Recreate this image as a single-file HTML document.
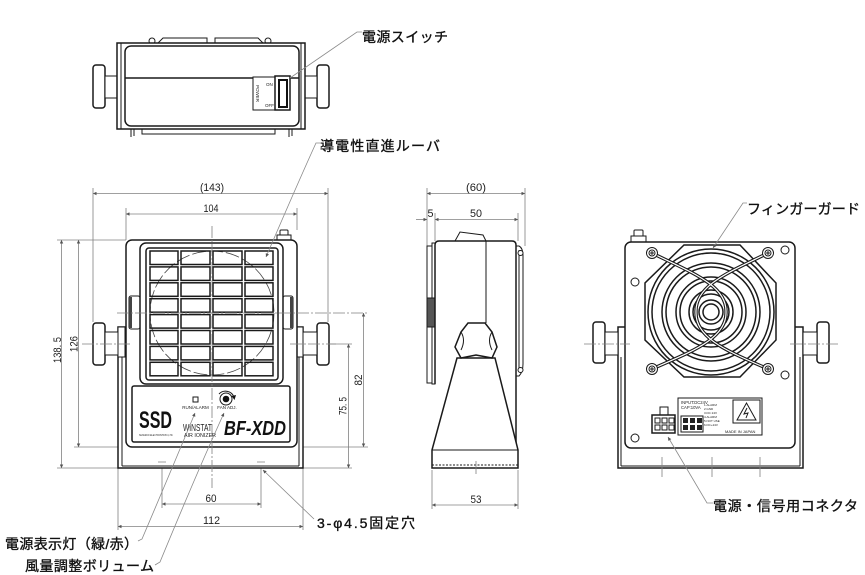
<!DOCTYPE html>
<html><head><meta charset="utf-8">
<style>
html,body{margin:0;padding:0;background:#fff;}
svg{display:block;}
.o{fill:none;stroke:#1a1a1a;stroke-width:1.5;}
.w{fill:#fff;stroke:#1a1a1a;stroke-width:1.5;}
.t{fill:none;stroke:#1a1a1a;stroke-width:1;}
.tw{fill:#fff;stroke:#1a1a1a;stroke-width:1;}
.d{fill:none;stroke:#808080;stroke-width:0.8;}
.c{fill:none;stroke:#808080;stroke-width:0.8;stroke-dasharray:12 2 2 2;}
.l{fill:none;stroke:#8a8a8a;stroke-width:0.8;}
.dt{font-family:"Liberation Sans",sans-serif;font-size:11px;fill:#222;}
.jp{font-family:"Liberation Sans","Noto Sans CJK JP",sans-serif;font-size:14px;fill:#111;stroke:#111;stroke-width:0.35;}
.sm{font-family:"Liberation Sans",sans-serif;fill:#222;}
</style></head><body>
<svg width="865" height="575" viewBox="0 0 865 575" xmlns="http://www.w3.org/2000/svg">
<defs>
<marker id="a" viewBox="0 0 10 10" refX="10" refY="5" markerUnits="userSpaceOnUse" markerWidth="6" markerHeight="3.5" orient="auto-start-reverse"><path d="M0,0L10,5L0,10z" fill="#555"/></marker>
</defs>

<!-- ================= TOP VIEW ================= -->
<rect x="93" y="65" width="12" height="43" rx="3" class="w"/>
<rect x="105" y="76" width="12" height="22" class="tw"/>
<rect x="317" y="65" width="12" height="43" rx="3" class="w"/>
<rect x="305" y="76" width="12" height="22" class="tw"/>
<path d="M158,43 L163,38 L207,38 L207,43 M215,43 L215,38 L258,38 L263,43" class="t"/>
<circle cx="152" cy="41" r="3" class="tw"/>
<circle cx="268" cy="41" r="3" class="tw"/>
<rect x="117" y="43" width="188" height="86" class="w"/>
<line x1="121" y1="43" x2="121" y2="129" class="t"/>
<line x1="301" y1="43" x2="301" y2="129" class="t"/>
<rect x="125" y="46" width="174" height="80" rx="6" class="w"/>
<line x1="125" y1="78" x2="299" y2="78" class="o"/>
<rect x="142" y="129" width="133" height="5" class="t"/>
<path d="M131,129 L131,137 M134,129 L134,136 M289,129 L289,137 M292,129 L292,136" class="t"/>
<rect x="253" y="77" width="22" height="33" class="tw"/>
<text x="266" y="86" class="sm" font-size="4.5">ON</text>
<text x="265" y="107" class="sm" font-size="4.5">OFF</text>
<text transform="translate(256,85) rotate(90)" class="sm" font-size="4.5">POWER</text>
<rect x="275" y="76" width="15" height="34" class="w"/>
<rect x="279" y="80" width="8" height="27" fill="none" stroke="#111" stroke-width="2"/>
<path d="M362,32 L357,32 L290,78" class="l"/>
<text x="362" y="42" class="jp" textLength="86">電源スイッチ</text>

<!-- ================= FRONT VIEW ================= -->
<line x1="93" y1="188" x2="93" y2="322" class="d"/>
<line x1="328" y1="188" x2="328" y2="322" class="d"/>
<line x1="93" y1="193.5" x2="328" y2="193.5" class="d" marker-start="url(#a)" marker-end="url(#a)"/>
<text x="212" y="191" class="dt" text-anchor="middle" textLength="24" lengthAdjust="spacingAndGlyphs">(143)</text>
<line x1="126" y1="208" x2="126" y2="240" class="d"/>
<line x1="297" y1="208" x2="297" y2="230" class="d"/>
<line x1="126" y1="214" x2="297" y2="214" class="d" marker-start="url(#a)" marker-end="url(#a)"/>
<text x="211" y="212" class="dt" text-anchor="middle" textLength="15" lengthAdjust="spacingAndGlyphs">104</text>
<line x1="57" y1="240" x2="126" y2="240" class="d"/>
<line x1="57" y1="468" x2="118" y2="468" class="d"/>
<line x1="61.5" y1="240" x2="61.5" y2="468" class="d" marker-start="url(#a)" marker-end="url(#a)"/>
<text transform="translate(61,350) rotate(-90)" class="dt" text-anchor="middle" textLength="26" lengthAdjust="spacingAndGlyphs">138. 5</text>
<line x1="74" y1="447" x2="126" y2="447" class="d"/>
<line x1="78.5" y1="240" x2="78.5" y2="447" class="d" marker-start="url(#a)" marker-end="url(#a)"/>
<text transform="translate(77.5,344) rotate(-90)" class="dt" text-anchor="middle" textLength="16" lengthAdjust="spacingAndGlyphs">126</text>
<line x1="297" y1="447" x2="368" y2="447" class="d"/>
<line x1="363.5" y1="313" x2="363.5" y2="447" class="d" marker-start="url(#a)" marker-end="url(#a)"/>
<text transform="translate(362,380) rotate(-90)" class="dt" text-anchor="middle" textLength="11" lengthAdjust="spacingAndGlyphs">82</text>
<line x1="303" y1="468" x2="352" y2="468" class="d"/>
<line x1="330" y1="344" x2="352" y2="344" class="d"/>
<line x1="348.5" y1="344" x2="348.5" y2="468" class="d" marker-start="url(#a)" marker-end="url(#a)"/>
<text transform="translate(346.5,406) rotate(-90)" class="dt" text-anchor="middle" textLength="18" lengthAdjust="spacingAndGlyphs">75. 5</text>
<line x1="162" y1="458" x2="162" y2="508" class="d"/>
<line x1="261" y1="458" x2="261" y2="508" class="d"/>
<line x1="162" y1="504" x2="261" y2="504" class="d" marker-start="url(#a)" marker-end="url(#a)"/>
<text x="211" y="502" class="dt" text-anchor="middle" textLength="11" lengthAdjust="spacingAndGlyphs">60</text>
<line x1="118" y1="468" x2="118" y2="530" class="d"/>
<line x1="303" y1="468" x2="303" y2="530" class="d"/>
<line x1="118" y1="526.5" x2="303" y2="526.5" class="d" marker-start="url(#a)" marker-end="url(#a)"/>
<text x="211.5" y="524" class="dt" text-anchor="middle" textLength="17" lengthAdjust="spacingAndGlyphs">112</text>

<rect x="118" y="327" width="185" height="141" class="w"/>
<line x1="122" y1="357" x2="122" y2="466" class="t"/>
<line x1="299" y1="357" x2="299" y2="466" class="t"/>
<line x1="122" y1="466" x2="299" y2="466" class="t"/>
<rect x="93" y="323" width="12" height="42" rx="3" class="w"/>
<rect x="105" y="332" width="13" height="23" class="tw"/>
<rect x="118" y="327" width="7" height="30" class="tw"/>
<rect x="317" y="323" width="12" height="42" rx="3" class="w"/>
<rect x="303" y="332" width="14" height="23" class="tw"/>
<rect x="296" y="327" width="7" height="30" class="tw"/>
<rect x="280" y="230" width="8" height="8" rx="1" class="tw"/>
<rect x="277" y="235" width="14" height="5" class="tw"/>
<rect x="126" y="240" width="171" height="207" rx="6" class="w" stroke-width="1.7"/>
<rect x="129" y="296" width="11" height="33" rx="2" class="tw"/>
<rect x="129" y="297" width="3" height="31" fill="#444"/>
<rect x="283" y="296" width="10" height="33" rx="2" class="tw"/>
<rect x="290" y="297" width="3" height="31" fill="#444"/>
<rect x="140" y="243" width="143" height="141" rx="6" class="w"/>
<rect x="146" y="248" width="132" height="132" rx="3" class="w"/>
<circle cx="212" cy="313" r="62" fill="none" stroke="#444" stroke-width="0.8" stroke-dasharray="14 3"/>
<g class="o" stroke-width="1.3">
<rect x="150" y="251" width="28" height="13.5"/><rect x="181" y="251" width="29" height="13.5"/><rect x="213" y="251" width="29" height="13.5"/><rect x="245" y="251" width="28" height="13.5"/>
<rect x="150" y="266.9" width="28" height="13.5"/><rect x="181" y="266.9" width="29" height="13.5"/><rect x="213" y="266.9" width="29" height="13.5"/><rect x="245" y="266.9" width="28" height="13.5"/>
<rect x="150" y="282.8" width="28" height="13.5"/><rect x="181" y="282.8" width="29" height="13.5"/><rect x="213" y="282.8" width="29" height="13.5"/><rect x="245" y="282.8" width="28" height="13.5"/>
<rect x="150" y="298.7" width="28" height="13.5"/><rect x="181" y="298.7" width="29" height="13.5"/><rect x="213" y="298.7" width="29" height="13.5"/><rect x="245" y="298.7" width="28" height="13.5"/>
<rect x="150" y="314.6" width="28" height="13.5"/><rect x="181" y="314.6" width="29" height="13.5"/><rect x="213" y="314.6" width="29" height="13.5"/><rect x="245" y="314.6" width="28" height="13.5"/>
<rect x="150" y="330.5" width="28" height="13.5"/><rect x="181" y="330.5" width="29" height="13.5"/><rect x="213" y="330.5" width="29" height="13.5"/><rect x="245" y="330.5" width="28" height="13.5"/>
<rect x="150" y="346.4" width="28" height="13.5"/><rect x="181" y="346.4" width="29" height="13.5"/><rect x="213" y="346.4" width="29" height="13.5"/><rect x="245" y="346.4" width="28" height="13.5"/>
<rect x="150" y="362.3" width="28" height="13.5"/><rect x="181" y="362.3" width="29" height="13.5"/><rect x="213" y="362.3" width="29" height="13.5"/><rect x="245" y="362.3" width="28" height="13.5"/>
</g>
<rect x="132" y="386" width="158" height="56" rx="2" class="w"/>
<text x="139" y="428" font-family="Liberation Sans,sans-serif" font-weight="bold" font-size="24" fill="#111" textLength="33" lengthAdjust="spacingAndGlyphs">SSD</text>
<text x="139" y="436" class="sm" font-size="3" textLength="34" lengthAdjust="spacingAndGlyphs">SHISHIDO ELECTROSTATIC,LTD.</text>
<rect x="193" y="397" width="5" height="5" class="t"/>
<text x="195.5" y="409" class="sm" font-size="4.5" text-anchor="middle">RUN/ALARM</text>
<circle cx="226" cy="399" r="6" class="t" stroke-width="1.3"/>
<circle cx="226" cy="399" r="3.3" fill="#111"/>
<path d="M219,394 A9,9 0 0 1 234,397" class="t" stroke-width="1.3"/>
<path d="M231.5,396 L236,395 L234.5,400 z" fill="#111"/>
<text x="227" y="409" class="sm" font-size="4.5" text-anchor="middle">FAN ADJ.</text>
<text x="183" y="431" class="sm" font-size="10" textLength="29" lengthAdjust="spacingAndGlyphs">WINSTAT</text>
<text x="184" y="437" class="sm" font-size="5" textLength="32" lengthAdjust="spacingAndGlyphs">AIR  IONIZER</text>
<text x="224" y="435" font-family="Liberation Sans,sans-serif" font-weight="bold" font-style="italic" font-size="20" fill="#111" textLength="62" lengthAdjust="spacingAndGlyphs">BF-XDD</text>
<path d="M158,462 L166,462 M257,462 L265,462" class="d"/>
<line x1="212" y1="226" x2="212" y2="488" class="c"/>
<line x1="117" y1="313" x2="368" y2="313" class="c"/>
<line x1="82" y1="344" x2="131" y2="344" class="c"/>
<line x1="290" y1="344" x2="336" y2="344" class="c"/>
<path d="M320,143 L316,143 Q300,178 266,257" class="l" marker-end="url(#a)"/>
<text x="320" y="151" class="jp" textLength="120">導電性直進ルーバ</text>
<path d="M314,519 L263,470" class="l" marker-end="url(#a)"/>
<text x="317" y="528" class="jp" textLength="98">3-φ4.5固定穴</text>
<path d="M138,541 L142,539 Q168,478 195,413" class="l" marker-end="url(#a)"/>
<text x="5" y="549" class="jp" textLength="133">電源表示灯（緑/赤）</text>
<path d="M155,565 L160,562 Q198,470 224,413" class="l" marker-end="url(#a)"/>
<text x="25" y="571" class="jp" textLength="129">風量調整ボリューム</text>

<!-- ================= SIDE VIEW ================= -->
<line x1="427" y1="188" x2="427" y2="246" class="d"/>
<line x1="525" y1="188" x2="525" y2="246" class="d"/>
<line x1="427" y1="193.5" x2="525" y2="193.5" class="d" marker-start="url(#a)" marker-end="url(#a)"/>
<text x="476" y="191" class="dt" text-anchor="middle" textLength="20" lengthAdjust="spacingAndGlyphs">(60)</text>
<line x1="435" y1="213" x2="435" y2="241" class="d"/>
<line x1="518" y1="213" x2="518" y2="241" class="d"/>
<line x1="416" y1="219.5" x2="427" y2="219.5" class="d" marker-end="url(#a)"/>
<line x1="435" y1="219.5" x2="518" y2="219.5" class="d" marker-start="url(#a)" marker-end="url(#a)"/>
<text x="430.5" y="217" class="dt" text-anchor="middle" textLength="6" lengthAdjust="spacingAndGlyphs">5</text>
<text x="476" y="217" class="dt" text-anchor="middle" textLength="12" lengthAdjust="spacingAndGlyphs">50</text>
<line x1="432" y1="470" x2="432" y2="509" class="d"/>
<line x1="518" y1="470" x2="518" y2="509" class="d"/>
<line x1="432" y1="505" x2="518" y2="505" class="d" marker-start="url(#a)" marker-end="url(#a)"/>
<text x="476" y="503" class="dt" text-anchor="middle" textLength="11" lengthAdjust="spacingAndGlyphs">53</text>

<rect x="427" y="246" width="5" height="137" class="tw"/>
<rect x="432" y="243" width="3" height="141" class="tw"/>
<rect x="427" y="298" width="8" height="29" fill="#555" stroke="#1a1a1a" stroke-width="1"/>
<path d="M455,241 L460,232 L483,235 L486,241" class="tw"/>
<path d="M435,384 L435,245 Q435,241 439,241 L512,241 Q516,241 516,245 L516,450" class="o" fill="#fff"/>
<line x1="486" y1="241" x2="486" y2="323" class="t"/>
<path d="M516,246 L519,246 Q523,248 523,256 L523,364 Q523,372 519,376 L516,376" class="t"/>
<line x1="519" y1="250" x2="519" y2="372" class="t"/>
<circle cx="520.5" cy="253" r="2.5" class="tw"/>
<circle cx="520.5" cy="370" r="2.5" class="tw"/>
<path d="M457,358 L432,450 L432,468 L518,468 L518,450 L495,358 Z" class="w"/>
<line x1="432" y1="450" x2="518" y2="450" class="t" stroke-width="0.6"/>
<line x1="432" y1="465" x2="518" y2="465" class="t" stroke-width="0.6" stroke-dasharray="2 1.5"/>
<line x1="476" y1="461" x2="476" y2="474" class="d"/>
<path d="M468,323 L485,323 L492,332 L497,347 L492,358 L476,355 L461,358 L455,347 L461,332 Z" class="w"/>
<path d="M461,332 Q466,340 461,350 M492,332 Q487,340 492,350" class="t" stroke-width="0.7"/>

<!-- ================= REAR VIEW ================= -->
<rect x="618" y="327" width="185" height="141" class="w"/>
<line x1="621" y1="357" x2="621" y2="466" class="t"/>
<line x1="800" y1="357" x2="800" y2="466" class="t"/>
<line x1="621" y1="466" x2="800" y2="466" class="t"/>
<rect x="593" y="322" width="12" height="41" rx="3" class="w"/>
<rect x="605" y="332" width="13" height="23" class="tw"/>
<rect x="817" y="322" width="12" height="41" rx="3" class="w"/>
<rect x="803" y="332" width="14" height="23" class="tw"/>
<rect x="634" y="230" width="9" height="9" rx="1" class="tw"/>
<rect x="631" y="236" width="15" height="6" class="tw"/>
<rect x="625" y="242" width="170" height="206" rx="6" class="w" stroke-width="1.7"/>
<polygon points="684,245 740,245 776,283 776,340 740,377 684,377 645,340 645,283" class="o" stroke-width="1.2"/>
<g class="o" stroke-width="1.1">
<circle cx="711" cy="312" r="63"/><circle cx="711" cy="312" r="59"/>
<circle cx="711" cy="312" r="49"/><circle cx="711" cy="312" r="45"/>
<circle cx="711" cy="312" r="35"/><circle cx="711" cy="312" r="31"/>
<circle cx="711" cy="312" r="22"/><circle cx="711" cy="312" r="18"/>
<circle cx="711" cy="312" r="12"/><circle cx="711" cy="312" r="8"/>
</g>
<g fill="none" stroke-linecap="round">
<path d="M652,253 C690,272 727,285 726,312 C727,339 690,352 652,369" stroke="#1a1a1a" stroke-width="3.4"/>
<path d="M768,253 C730,272 695,285 696,312 C695,339 730,352 768,369" stroke="#1a1a1a" stroke-width="3.4"/>
<path d="M652,253 C690,272 727,285 726,312 C727,339 690,352 652,369" stroke="#fff" stroke-width="1.2"/>
<path d="M768,253 C730,272 695,285 696,312 C695,339 730,352 768,369" stroke="#fff" stroke-width="1.2"/>
</g>
<g class="tw" stroke-width="1.2">
<circle cx="652" cy="253" r="5.5"/><circle cx="768" cy="253" r="5.5"/><circle cx="652" cy="369" r="5.5"/><circle cx="768" cy="369" r="5.5"/>
</g>
<g class="t" stroke-width="1.2">
<circle cx="652" cy="253" r="3"/><circle cx="768" cy="253" r="3"/><circle cx="652" cy="369" r="3"/><circle cx="768" cy="369" r="3"/>
<circle cx="785" cy="250" r="4"/><circle cx="635" cy="282" r="4"/><circle cx="785" cy="375" r="4"/><circle cx="635" cy="438" r="4"/>
</g>
<path d="M650,253 L654,253 M652,251 L652,255 M766,253 L770,253 M768,251 L768,255 M650,369 L654,369 M652,367 L652,371 M766,369 L770,369 M768,367 L768,371" class="t"/>
<rect x="660" y="407" width="8" height="8" class="t"/>
<rect x="652" y="415" width="23" height="18" class="w"/>
<g class="t"><rect x="655" y="418" width="5" height="5"/><rect x="662" y="418" width="5" height="5"/><rect x="669" y="418" width="5" height="5"/><rect x="655" y="425" width="5" height="5"/><rect x="662" y="425" width="5" height="5"/><rect x="669" y="425" width="5" height="5"/></g>
<rect x="678" y="398" width="84" height="37" class="tw"/>
<text x="681" y="404" class="sm" font-size="4.2">INPUT:DC24V</text>
<text x="681" y="409" class="sm" font-size="4.2">CAP:10VA</text>
<rect x="681" y="416" width="22" height="16" class="t" stroke-width="1.3"/>
<g fill="#222"><rect x="683" y="418" width="5" height="5"/><rect x="690" y="418" width="5" height="5"/><rect x="697" y="418" width="5" height="5"/><rect x="683" y="425" width="5" height="5"/><rect x="690" y="425" width="5" height="5"/><rect x="697" y="425" width="5" height="5"/></g>
<g class="sm" font-size="3"><text x="704" y="406">1.ALARM</text><text x="704" y="410">2.GND</text><text x="704" y="414">3.DC 24V</text><text x="704" y="418">4.ALARM</text><text x="704" y="422">5.NOT USE</text><text x="704" y="426">6.DC+24V</text></g>
<rect x="733" y="400" width="27" height="23" class="t"/>
<path d="M746.5,403 L756,420 L737,420 Z" class="t" stroke-width="1.3"/>
<path d="M747,408 L744,414 L748,413 L746,418" class="t"/>
<text x="725" y="433" class="sm" font-size="4">MADE IN JAPAN</text>
<line x1="662" y1="457" x2="662" y2="477" class="d"/>
<line x1="712" y1="457" x2="712" y2="477" class="d"/>
<line x1="760" y1="457" x2="760" y2="477" class="d"/>
<line x1="584" y1="344" x2="630" y2="344" class="c"/>
<line x1="790" y1="344" x2="838" y2="344" class="c"/>
<path d="M747,203 L743,203 L713,248" class="l" marker-end="url(#a)"/>
<text x="747" y="214" class="jp" textLength="113">フィンガーガード</text>
<path d="M713,503 L707,503 L668,437" class="l" marker-end="url(#a)"/>
<text x="713" y="511" class="jp" textLength="145">電源・信号用コネクタ</text>
</svg>
</body></html>
